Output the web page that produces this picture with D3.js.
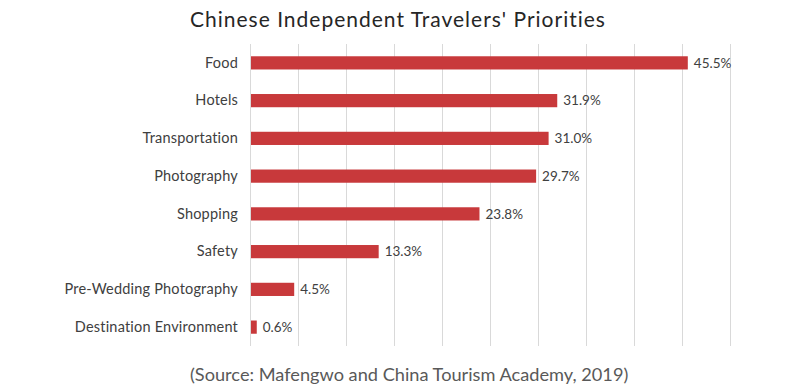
<!DOCTYPE html>
<html>
<head>
<meta charset="utf-8">
<script src="https://cdn.jsdelivr.net/npm/d3@7"></script>
<style>
  html, body { margin: 0; padding: 0; background: #ffffff; }
  svg { display: block; }
  text { font-family: "Lato", "Open Sans", sans-serif; }
</style>
</head>
<body>
<svg id="chart" width="800" height="388"></svg>
<script>
const categories = ["Food", "Hotels", "Transportation", "Photography", "Shopping", "Safety", "Pre-Wedding Photography", "Destination Environment"];
const values = [45.5, 31.9, 31.0, 29.7, 23.8, 13.3, 4.5, 0.6];
const xTicks = [0, 5, 10, 15, 20, 25, 30, 35, 40, 45, 50];
const titleText = "Chinese Independent Travelers' Priorities";
const sourceText = "(Source: Mafengwo and China Tourism Academy, 2019)";

const svg = d3.select("#chart");
const W = 800, H = 388;
const margin = { left: 251, right: 69, top: 44, bottom: 42 };

const x = d3.scaleLinear().domain([0, 50]).range([margin.left, W - margin.right]);
const y = d3.scaleBand().domain(categories).range([margin.top, H - margin.bottom]).paddingInner(0.65).paddingOuter(0.325);

// gridlines
svg.append("g")
  .selectAll("line")
  .data(xTicks)
  .join("line")
  .attr("x1", d => Math.round(x(d)) - 0.5)
  .attr("x2", d => Math.round(x(d)) - 0.5)
  .attr("y1", margin.top)
  .attr("y2", H - margin.bottom)
  .attr("stroke", "#d9d9d9")
  .attr("stroke-width", 1);

// bars
const data = categories.map((c, i) => ({ c, v: values[i] }));
svg.append("g")
  .selectAll("rect")
  .data(data)
  .join("rect")
  .attr("x", x(0))
  .attr("y", d => y(d.c))
  .attr("width", d => x(d.v) - x(0))
  .attr("height", y.bandwidth())
  .attr("fill", "#c8393b");

// value labels
svg.append("g")
  .selectAll("text")
  .data(data)
  .join("text")
  .attr("x", d => x(d.v) + 6)
  .attr("y", d => y(d.c) + y.bandwidth() / 2)
  .attr("dy", "0.35em")
  .attr("font-size", 13.5)
  .attr("fill", "#404040")
  .text(d => d.v.toFixed(1) + "%");

// category axis
const yAxis = d3.axisLeft(y).tickSize(0).tickPadding(13);
const gy = svg.append("g").attr("transform", `translate(${x(0)},0)`).call(yAxis);
gy.select(".domain").remove();
gy.selectAll("text")
  .attr("font-size", 14.5)
  .attr("letter-spacing", 0.2)
  .attr("fill", "#404040")
  .style("font-family", "Lato, 'Open Sans', sans-serif");

// title
svg.append("text")
  .attr("x", 190)
  .attr("y", 27)
  .attr("font-size", 21)
  .attr("letter-spacing", 1)
  .attr("fill", "#262626")
  .text(titleText);

// source
svg.append("text")
  .attr("x", 190)
  .attr("y", 381)
  .attr("font-size", 18.2)
  .attr("fill", "#595959")
  .text(sourceText);
</script>
</body>
</html>
